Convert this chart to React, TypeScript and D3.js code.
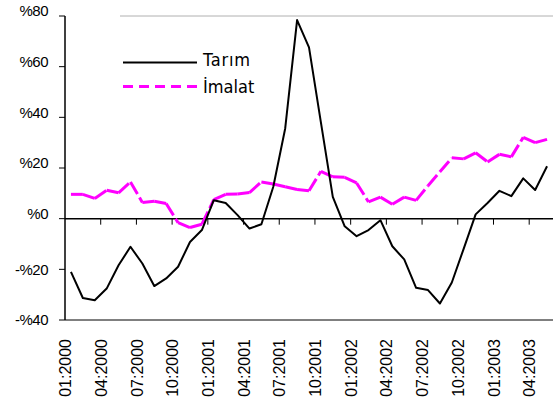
import React from "react";
import * as d3 from "d3";

const months: string[] = [
  "01:2000","02:2000","03:2000","04:2000","05:2000","06:2000","07:2000","08:2000","09:2000","10:2000","11:2000","12:2000",
  "01:2001","02:2001","03:2001","04:2001","05:2001","06:2001","07:2001","08:2001","09:2001","10:2001","11:2001","12:2001",
  "01:2002","02:2002","03:2002","04:2002","05:2002","06:2002","07:2002","08:2002","09:2002","10:2002","11:2002","12:2002",
  "01:2003","02:2003","03:2003","04:2003","05:2003",
];

const tarim: number[] = [
  -21.0, -31.3, -32.2, -27.6, -18.4, -11.1, -17.7, -26.6, -23.6, -19.0, -9.2, -4.5,
  7.3, 6.2, 1.4, -3.9, -2.2, 12.6, 35.6, 78.4, 67.6, 38.0, 8.6, -3.0,
  -6.9, -4.5, -0.6, -10.9, -16.1, -27.3, -28.2, -33.5, -25.2, -11.8, 1.7, 6.2,
  11.0, 8.9, 15.9, 11.3, 20.7,
];

const imalat: number[] = [
  9.6, 9.6, 8.0, 11.2, 10.2, 14.5, 6.4, 6.9, 6.0, -1.6, -3.5, -2.2,
  7.5, 9.6, 9.7, 10.3, 14.5, 13.7, 12.6, 11.5, 11.0, 18.7, 16.5, 16.3,
  14.1, 6.6, 8.5, 5.7, 8.5, 7.2, 13.0, 18.5, 24.0, 23.6, 26.0, 22.4,
  25.4, 24.4, 32.1, 30.0, 31.3,
];

const yTicks: number[] = [-40, -20, 0, 20, 40, 60, 80];
const yTickLabels: string[] = ["-%40", "-%20", "%0", "%20", "%40", "%60", "%80"];
const xTickLabels: string[] = [
  "01:2000","04:2000","07:2000","10:2000","01:2001","04:2001","07:2001",
  "10:2001","01:2002","04:2002","07:2002","10:2002","01:2003","04:2003",
];
const seriesNames: string[] = ["Tarım", "İmalat"];

const W = 553;
const H = 412;
const left = 65;
const right = 553;
const top = 16;
const bottom = 320;

export default function App() {
  const x = d3.scaleBand<string>().domain(months).range([left, right]);
  const y = d3.scaleLinear().domain([-40, 80]).range([bottom, top]);
  const cx = (i: number) => (x(months[i]) as number) + x.bandwidth() / 2;

  const line = d3
    .line<number>()
    .x((_, i) => cx(i))
    .y((d) => y(d));

  const tarimPath = line(tarim) || "";

  const segLine = d3
    .line<[number, number]>()
    .x((d) => d[0])
    .y((d) => d[1]);
  const imalatSegs: string[] = [];
  for (let i = 0; i < imalat.length - 1; i++) {
    imalatSegs.push(
      segLine([
        [cx(i), y(imalat[i])],
        [cx(i + 1), y(imalat[i + 1])],
      ]) || ""
    );
  }

  const y0 = y(0);
  const tickFont = "'Liberation Sans', Arial, sans-serif";
  const legendFont = "'DejaVu Sans Condensed', 'Open Sans', sans-serif";

  return (
    <svg
      width={W}
      height={H}
      style={{ position: "absolute", left: 0, top: 0, background: "#fff" }}
    >
      <rect x={0} y={0} width={W} height={H} fill="#fff" />
      {/* plot border */}
      <line x1={120} x2={right} y1={top} y2={top} stroke="#b0b0b0" strokeWidth={1} />
      <line x1={left} x2={right} y1={bottom} y2={bottom} stroke="#000" strokeWidth={1} />

      {/* y axis */}
      <line x1={left} x2={left} y1={top} y2={bottom} stroke="#000" strokeWidth={1.5} />
      {yTicks.map((t, i) => (
        <g key={t}>
          <line x1={left - 6} x2={left} y1={y(t)} y2={y(t)} stroke="#000" strokeWidth={1} />
          <text
            x={48}
            y={y(t) - (t >= 0 ? 5 : 0)}
            dy="0.35em"
            textAnchor="end"
            fontFamily={tickFont}
            fontSize={15}
            letterSpacing={-0.5}
            fill="#000"
          >
            {yTickLabels[i]}
          </text>
        </g>
      ))}

      {/* x axis at 0 */}
      <line x1={left} x2={right} y1={y0} y2={y0} stroke="#000" strokeWidth={1.5} />
      {xTickLabels.map((lab) => {
        const tx = x(lab) as number;
        return (
          <g key={lab}>
            {tx > left + 1 && (
              <line x1={tx} x2={tx} y1={y0} y2={y0 + 6} stroke="#000" strokeWidth={1} />
            )}
            <text
              transform={`translate(${tx + 0.5},339) rotate(-90)`}
              dy="0.35em"
              textAnchor="end"
              fontFamily={tickFont}
              fontSize={16}
              fill="#000"
            >
              {lab}
            </text>
          </g>
        );
      })}

      {/* series */}
      {imalatSegs.map((d, i) => (
        <path
          key={i}
          d={d}
          fill="none"
          stroke="#ff00ff"
          strokeWidth={3}
          strokeDasharray="14,4"
          strokeLinejoin="round"
        />
      ))}
      <path d={tarimPath} fill="none" stroke="#000" strokeWidth={2} strokeLinejoin="round" />

      {/* legend */}
      <line x1={123} x2={197} y1={62.5} y2={62.5} stroke="#000" strokeWidth={2} />
      <text x={203} y={66} fontFamily={legendFont} fontSize={18} letterSpacing={0.8} fill="#000">
        {seriesNames[0]}
      </text>
      <line
        x1={123}
        x2={197}
        y1={86.5}
        y2={86.5}
        stroke="#ff00ff"
        strokeWidth={3}
        strokeDasharray="10,6"
      />
      <text x={203} y={93} fontFamily={legendFont} fontSize={18} fill="#000">
        {seriesNames[1]}
      </text>
    </svg>
  );
}
